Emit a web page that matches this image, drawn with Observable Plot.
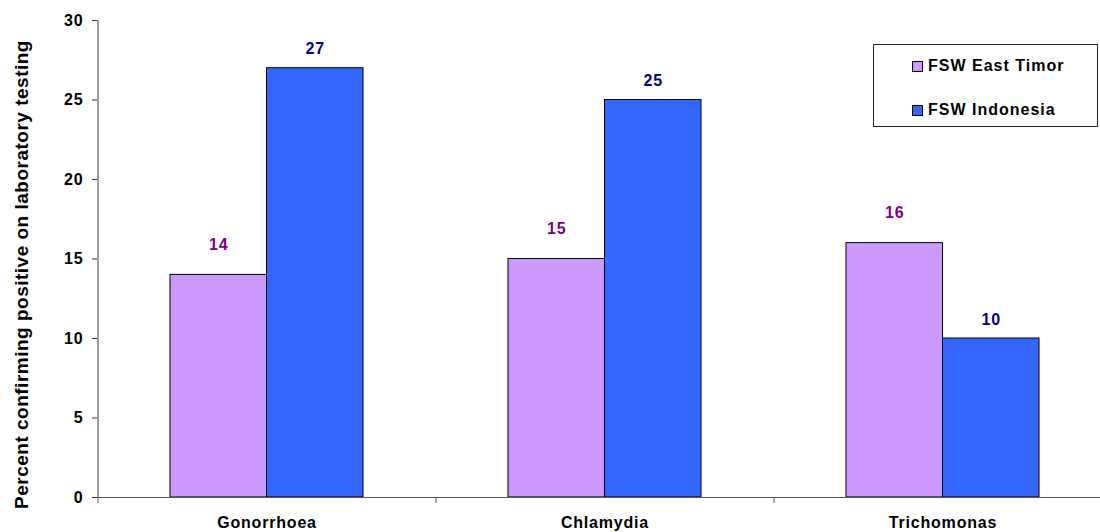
<!DOCTYPE html>
<html><head><meta charset="utf-8">
<script src="https://cdn.jsdelivr.net/npm/d3@7"></script>
<script src="https://cdn.jsdelivr.net/npm/@observablehq/plot@0.6"></script>
<style>
body{margin:0;background:#fff;overflow:hidden;font-family:"Liberation Sans",Arial,sans-serif;}
#wrap{position:relative;width:1100px;height:532px;overflow:hidden;}
#wrap svg text{letter-spacing:0.8px;}
#wrap svg text.ylab{letter-spacing:0.5px;}
.legend{position:absolute;left:873px;top:44px;width:225px;height:83px;border:1px solid #222;box-sizing:border-box;background:#fff;font:bold 16px "Liberation Sans",Arial,sans-serif;letter-spacing:1px;color:#000;}
.item{position:absolute;left:38px;display:flex;align-items:center;height:18px;line-height:18px;white-space:nowrap;}
.sw{width:9px;height:9px;border:1px solid #000;margin-right:5px;flex:none;}
</style></head>
<body><div id="wrap"></div>
<script>
const categories = ["Gonorrhoea", "Chlamydia", "Trichomonas"];
const seriesNames = ["FSW East Timor", "FSW Indonesia"];
const eastTimor = [14, 15, 16];
const indonesia = [27, 25, 10];
const yTicks = [0, 5, 10, 15, 20, 25, 30];
const yLabel = "Percent confirming positive on laboratory testing";
const seriesColors = ["#CC99FF", "#3366FF"];
const labelColors = ["#800080", "#000080"];

const W = 1111, H = 532, mL = 97, mT = 20, mB = 35;
const step = (W - mL) / categories.length;
const pInner = 0.429, pOuter = 0.2145;
const bw = step * (1 - pInner);
const rows = categories.map((c, i) => ({category: c, et: eastTimor[i], id: indonesia[i]}));

const chart = Plot.plot({
  width: W, height: H,
  marginLeft: mL, marginRight: 0, marginTop: mT, marginBottom: mB,
  style: {maxWidth: "none", fontFamily: "'Liberation Sans', Arial, sans-serif", fontSize: "16px", fontWeight: "bold", color: "#000", background: "#fff", overflow: "visible"},
  x: {domain: categories, paddingInner: pInner, paddingOuter: pOuter, label: null},
  y: {domain: [yTicks[0], yTicks[yTicks.length - 1]], label: null},
  marks: [
    Plot.barY(rows, {x: "category", y: "et", fill: seriesColors[0], stroke: "#000", strokeWidth: 1, insetRight: bw / 2}),
    Plot.barY(rows, {x: "category", y: "id", fill: seriesColors[1], stroke: "#000", strokeWidth: 1, insetLeft: bw / 2}),
    Plot.ruleY([yTicks[0]], {stroke: "#555"}),
    Plot.ruleX([categories[0]], {x: d => d, y1: yTicks[0], y2: yTicks[yTicks.length - 1], dx: -step / 2, stroke: "#333"}),
    Plot.ruleX(categories, {x: d => d, y1: yTicks[0], y2: yTicks[0], insetBottom: -6, dx: -step / 2, stroke: "#555"}),
    Plot.axisY({ticks: yTicks, tickSize: 5, tickPadding: 9, label: null, stroke: "#333"}),
    Plot.axisX({tickSize: 0, tickPadding: 19, label: null}),
    Plot.text(rows, {x: "category", y: "et", text: d => String(d.et), dx: -bw / 4, dy: -30, fill: labelColors[0], fontWeight: "bold", fontSize: 16}),
    Plot.text(rows, {x: "category", y: "id", text: d => String(d.id), dx: bw / 4, dy: -19, fill: labelColors[1], fontWeight: "bold", fontSize: 16}),
    Plot.text([yLabel], {frameAnchor: "left", textAnchor: "middle", text: d => d, rotate: -90, dx: -76, dy: 15.5, fontWeight: "bold", fontSize: 19, fill: "#000", className: "ylabmark"})
  ]
});

const wrap = document.getElementById("wrap");
wrap.appendChild(chart);
chart.querySelectorAll(".ylabmark text").forEach(t => t.classList.add("ylab"));

const legend = document.createElement("div");
legend.className = "legend";
const tops = [12, 56];
seriesNames.forEach((name, i) => {
  const item = document.createElement("div");
  item.className = "item";
  item.style.top = tops[i] + "px";
  const sw = document.createElement("span");
  sw.className = "sw";
  sw.style.background = seriesColors[i];
  const t = document.createElement("span");
  t.textContent = name;
  item.appendChild(sw);
  item.appendChild(t);
  legend.appendChild(item);
});
wrap.appendChild(legend);
</script>
</body></html>
